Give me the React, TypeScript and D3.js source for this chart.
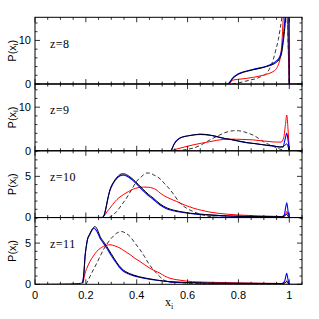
import React from "react";
import * as d3 from "d3";

type P = [number, number];

const xTickLabels = ["0", "0.2", "0.4", "0.6", "0.8", "1"];
const xTickValues = [0, 0.2, 0.4, 0.6, 0.8, 1];
const panelLabels = ["z=8", "z=9", "z=10", "z=11"];
const panelYMax = [15.3, 15.3, 8.1, 8.1];
const panelYMinor = [2, 2, 1, 1];
const panelYMajor = [10, 10, 5, 5];

// z=8
const z8Black: P[] = [[0,0],[0.76,0],[0.768,0.5],[0.778,1.3],[0.79,1.9],[0.81,2.5],[0.832,2.9],[0.86,3.3],[0.885,3.6],[0.91,4.0],[0.931,4.4],[0.95,5.0],[0.962,5.8],[0.970,7.1],[0.976,9.5],[0.981,12],[0.987,16],[0.992,20],[0.998,22],[1.0,0],[1.05,0]];
const z8Blue: P[] = [[0.76,0],[0.768,0.6],[0.778,1.4],[0.79,2.0],[0.81,2.6],[0.832,3.0],[0.86,3.4],[0.885,3.7],[0.91,4.1],[0.931,4.6],[0.95,5.3],[0.962,6.2],[0.970,7.8],[0.976,10.5],[0.983,15],[0.99,19],[0.998,22],[1.0,0]];
const z8Red: P[] = [[0.765,0],[0.772,0.6],[0.782,0.95],[0.81,1.15],[0.832,1.3],[0.86,1.55],[0.885,1.86],[0.91,2.2],[0.924,2.5],[0.94,3.0],[0.95,3.6],[0.958,4.6],[0.963,5.6],[0.968,7.5],[0.971,9.5],[0.976,14.9],[0.982,20],[0.99,18],[0.995,10],[1.0,0]];
const z8Dash: P[] = [[0.775,0],[0.80,0.25],[0.819,0.53],[0.845,0.9],[0.872,1.3],[0.895,1.9],[0.911,2.5],[0.925,3.8],[0.937,5.6],[0.947,7.8],[0.957,10.2],[0.965,13],[0.970,14.9],[0.978,19],[0.99,16],[1.0,0]];

// z=9
const z9Black: P[] = [[0,0],[0.535,0],[0.54,0.6],[0.547,1.5],[0.554,2.1],[0.57,2.9],[0.59,3.3],[0.609,3.5],[0.63,3.7],[0.649,3.8],[0.67,3.75],[0.688,3.6],[0.71,3.35],[0.727,3.1],[0.75,2.8],[0.78,2.5],[0.81,2.15],[0.832,1.9],[0.86,1.7],[0.885,1.5],[0.91,1.3],[0.937,1.14],[0.963,0.9],[0.975,0.9],[0.985,1.4],[0.99,1.6],[0.995,1.0],[1.0,0],[1.05,0]];
const z9Blue: P[] = [[0.535,0],[0.54,0.65],[0.547,1.55],[0.554,2.15],[0.57,2.95],[0.59,3.3],[0.609,3.5],[0.63,3.68],[0.649,3.76],[0.67,3.7],[0.688,3.55],[0.71,3.3],[0.727,3.05],[0.75,2.75],[0.78,2.45],[0.81,2.1],[0.832,1.86],[0.86,1.66],[0.885,1.46],[0.91,1.27],[0.937,1.1],[0.963,0.88],[0.975,0.9],[0.983,2.5],[0.99,4.0],[0.995,2.5],[1.0,0]];
const z9Red: P[] = [[0.535,0],[0.545,0.2],[0.557,0.4],[0.59,0.9],[0.622,1.36],[0.655,1.75],[0.688,2.1],[0.715,2.4],[0.74,2.6],[0.77,2.68],[0.793,2.65],[0.83,2.58],[0.858,2.5],[0.89,2.3],[0.924,2.1],[0.95,2.0],[0.968,2.0],[0.978,3.0],[0.985,6.0],[0.99,8.2],[0.995,5],[1.0,0]];
const z9Dash: P[] = [[0.555,0],[0.58,0.15],[0.60,0.35],[0.622,0.6],[0.655,1.4],[0.688,2.5],[0.715,3.3],[0.74,4.0],[0.76,4.4],[0.78,4.6],[0.80,4.6],[0.819,4.4],[0.84,4.0],[0.858,3.6],[0.878,2.9],[0.898,2.1],[0.918,1.5],[0.937,1.0],[0.95,0.7],[0.963,0.4],[0.98,0.1],[1.0,0]];

// z=10
const z10Black: P[] = [[0,0],[0.265,0.02],[0.272,0.3],[0.278,1.0],[0.284,1.95],[0.29,2.8],[0.295,3.4],[0.305,4.1],[0.315,4.6],[0.328,5.05],[0.341,5.3],[0.352,5.3],[0.36,5.2],[0.373,4.95],[0.387,4.6],[0.405,4.05],[0.426,3.4],[0.445,2.85],[0.465,2.37],[0.492,1.65],[0.52,1.15],[0.545,0.9],[0.57,0.73],[0.61,0.53],[0.649,0.41],[0.7,0.3],[0.754,0.2],[0.82,0.15],[0.885,0.12],[0.97,0.1],[0.98,0.12],[0.988,0.4],[0.993,0.25],[1.0,0],[1.05,0]];
const z10Blue: P[] = [[0.265,0.02],[0.272,0.3],[0.278,1.0],[0.284,1.9],[0.29,2.75],[0.295,3.3],[0.305,4.0],[0.315,4.5],[0.328,4.95],[0.341,5.15],[0.352,5.15],[0.36,5.05],[0.373,4.8],[0.387,4.45],[0.405,3.9],[0.426,3.25],[0.445,2.7],[0.465,2.22],[0.492,1.52],[0.52,1.05],[0.545,0.83],[0.57,0.67],[0.61,0.49],[0.649,0.38],[0.7,0.28],[0.754,0.19],[0.82,0.14],[0.885,0.11],[0.97,0.1],[0.98,0.3],[0.99,1.8],[0.996,0.6],[1.0,0]];
const z10Red: P[] = [[0.265,0],[0.272,0.2],[0.283,0.7],[0.295,1.15],[0.315,1.95],[0.33,2.4],[0.347,2.77],[0.367,3.15],[0.387,3.46],[0.405,3.62],[0.426,3.7],[0.445,3.68],[0.465,3.55],[0.48,3.3],[0.492,2.97],[0.52,2.45],[0.557,1.95],[0.59,1.5],[0.622,1.15],[0.655,0.88],[0.688,0.66],[0.72,0.52],[0.754,0.41],[0.82,0.28],[0.885,0.2],[0.95,0.14],[0.975,0.12],[0.985,0.3],[0.99,0.73],[0.995,0.3],[1.0,0]];
const z10Dash: P[] = [[0.29,0],[0.305,0.25],[0.321,0.73],[0.34,1.5],[0.36,2.37],[0.38,3.4],[0.4,4.4],[0.42,5.0],[0.439,5.4],[0.452,5.4],[0.465,5.2],[0.478,5.0],[0.492,4.7],[0.51,4.1],[0.531,3.4],[0.55,2.6],[0.57,1.76],[0.595,1.15],[0.622,0.73],[0.655,0.35],[0.688,0.12],[0.72,0.04],[0.8,0],[1.0,0]];

// z=11
const z11Black: P[] = [[0,0],[0.1,0.02],[0.17,0.08],[0.1875,0.2],[0.192,1.2],[0.197,3.4],[0.202,4.6],[0.206,5.4],[0.215,6.1],[0.223,6.6],[0.236,7.0],[0.246,6.6],[0.256,5.8],[0.269,5.2],[0.282,4.6],[0.3,3.7],[0.315,2.96],[0.33,2.3],[0.347,1.74],[0.367,1.38],[0.387,1.13],[0.41,0.92],[0.439,0.73],[0.478,0.52],[0.53,0.32],[0.62,0.2],[0.75,0.12],[0.97,0.08],[0.985,0.2],[0.99,0.35],[0.995,0.15],[1.0,0],[1.05,0]];
const z11Blue: P[] = [[0.1875,0.2],[0.192,1.3],[0.197,3.5],[0.202,4.7],[0.206,5.4],[0.215,6.0],[0.223,6.5],[0.232,6.8],[0.242,6.5],[0.256,5.6],[0.269,5.0],[0.282,4.4],[0.3,3.5],[0.315,2.8],[0.33,2.15],[0.347,1.62],[0.367,1.28],[0.387,1.05],[0.41,0.86],[0.439,0.68],[0.478,0.49],[0.53,0.3],[0.62,0.19],[0.75,0.11],[0.97,0.08],[0.982,0.4],[0.99,1.34],[0.996,0.4],[1.0,0]];
const z11Red: P[] = [[0.1875,0.1],[0.192,0.6],[0.197,1.34],[0.206,2.1],[0.216,2.76],[0.23,3.45],[0.243,4.0],[0.256,4.35],[0.269,4.6],[0.282,4.75],[0.295,4.8],[0.315,4.65],[0.334,4.4],[0.354,4.0],[0.374,3.6],[0.393,3.15],[0.413,2.76],[0.432,2.35],[0.452,1.95],[0.472,1.62],[0.492,1.34],[0.51,1.0],[0.531,0.73],[0.57,0.5],[0.62,0.32],[0.68,0.25],[0.754,0.2],[0.9,0.12],[0.975,0.1],[0.985,0.2],[0.99,0.4],[0.995,0.15],[1.0,0]];
const z11Dash: P[] = [[0.2,0],[0.208,0.4],[0.216,0.93],[0.23,1.8],[0.243,2.56],[0.256,3.4],[0.269,4.2],[0.282,4.85],[0.295,5.4],[0.308,5.85],[0.321,6.2],[0.331,6.35],[0.341,6.4],[0.357,6.2],[0.374,5.8],[0.393,5.0],[0.413,4.2],[0.43,3.4],[0.446,2.56],[0.462,1.9],[0.478,1.34],[0.492,0.9],[0.505,0.55],[0.53,0.3],[0.57,0.2],[0.62,0.1],[0.7,0.03],[0.8,0],[1.0,0]];

const blackSeries = [z8Black, z9Black, z10Black, z11Black];
const blueSeries = [z8Blue, z9Blue, z10Blue, z11Blue];
const redSeries = [z8Red, z9Red, z10Red, z11Red];
const dashSeries = [z8Dash, z9Dash, z10Dash, z11Dash];

const W = 319, H = 319;
const left = 35, right = 302, top = 17.3, bottom = 284.3;
const nPanels = 4;
const pH = (bottom - top) / nPanels;

export default function App() {
  const x = d3.scaleLinear().domain([0, 1.05]).range([left, right]);
  const xMinor = d3.range(0, 1.0501, 0.05);
  const sans = "'Liberation Sans', Arial, sans-serif";
  const serif = "'Liberation Serif', 'Times New Roman', serif";

  return (
    <svg width={W} height={H} style={{ position: "absolute", left: 0, top: 0, background: "#fff" }}>
      <defs>
        {d3.range(nPanels).map((i) => (
          <clipPath id={`clip${i}`} key={i}>
            <rect x={left} y={top + i * pH} width={right - left} height={pH} />
          </clipPath>
        ))}
      </defs>
      {d3.range(nPanels).map((i) => {
        const y0 = top + i * pH;
        const y1 = y0 + pH;
        const y = d3.scaleLinear().domain([0, panelYMax[i]]).range([y1, y0]);
        const line = d3
          .line<P>()
          .x((d) => x(d[0]))
          .y((d) => y(d[1]))
          .curve(d3.curveMonotoneX);
        const yMinorTicks = d3.range(0, panelYMax[i] + 1e-6, panelYMinor[i]);
        const yMajorTicks = d3.range(0, panelYMax[i] + 1e-6, panelYMajor[i]);
        const midY = (y0 + y1) / 2;
        return (
          <g key={i}>
            <g clipPath={`url(#clip${i})`} fill="none">
              <path d={line(dashSeries[i]) || ""} stroke="#000" strokeWidth={0.8} strokeDasharray="4,2.5" />
              <path d={line(redSeries[i]) || ""} stroke="#ff0000" strokeWidth={1} />
              <path d={line(blueSeries[i]) || ""} stroke="#0000ff" strokeWidth={1.1} />
              <path d={line(blackSeries[i]) || ""} stroke="#000" strokeWidth={1} />
            </g>
            <rect x={left} y={y0} width={right - left} height={pH} fill="none" stroke="#000" strokeWidth={1} />
            {xMinor.map((v, k) => {
              const isMajor = Math.abs(v / 0.2 - Math.round(v / 0.2)) < 1e-6;
              const len = isMajor ? 5 : 2.5;
              return (
                <g key={k} stroke="#000" strokeWidth={0.8}>
                  <line x1={x(v)} x2={x(v)} y1={y1} y2={y1 - len} />
                  <line x1={x(v)} x2={x(v)} y1={y0} y2={y0 + len} />
                </g>
              );
            })}
            {yMinorTicks.map((v, k) => {
              const isMajor = Math.abs(v / panelYMajor[i] - Math.round(v / panelYMajor[i])) < 1e-6;
              const len = isMajor ? 5 : 2.5;
              return (
                <g key={k} stroke="#000" strokeWidth={0.8}>
                  <line x1={left} x2={left + len} y1={y(v)} y2={y(v)} />
                  <line x1={right} x2={right - len} y1={y(v)} y2={y(v)} />
                </g>
              );
            })}
            {yMajorTicks.map((v, k) => (
              <text key={k} x={left - 4} y={y(v)} dy="0.35em" textAnchor="end" fontFamily={sans} fontSize={11} fill="#000">
                {String(v)}
              </text>
            ))}
            <text x={50} y={y0 + 26} dy="0.35em" fontFamily={serif} fontSize={12} letterSpacing={0.5} fill="#000">
              {panelLabels[i]}
            </text>
            <text
              transform={`translate(${12},${midY}) rotate(-90)`}
              textAnchor="middle"
              dy="0.35em"
              fontFamily={sans}
              fontSize={11}
              fill="#000"
            >
              <tspan>P(x</tspan>
              <tspan fontSize={8} dy="2.5">i</tspan>
              <tspan dy="-2.5">)</tspan>
            </text>
          </g>
        );
      })}
      {xTickValues.map((v, k) => (
        <text key={k} x={x(v)} y={bottom + 11} dy="0.35em" textAnchor="middle" fontFamily={sans} fontSize={11} fill="#000">
          {xTickLabels[k]}
        </text>
      ))}
      <text x={165} y={306} fontFamily={serif} fontSize={12} fill="#000">
        x<tspan fontSize={8} dy="3">i</tspan>
      </text>
    </svg>
  );
}
